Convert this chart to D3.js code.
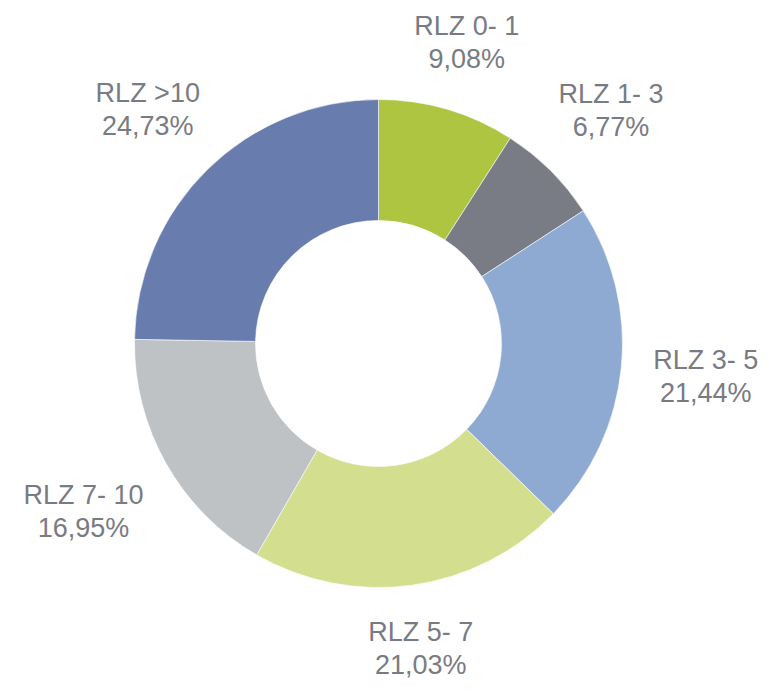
<!DOCTYPE html>
<html>
<head>
<meta charset="utf-8">
<script src="https://cdn.jsdelivr.net/npm/d3@7"></script>
<style>
  body { margin: 0; background: #fff; }
  text { font-family: "Liberation Sans", Arial, sans-serif; }
</style>
</head>
<body>
<script>
// data
const categories = ["RLZ 0- 1", "RLZ 1- 3", "RLZ 3- 5", "RLZ 5- 7", "RLZ 7- 10", "RLZ >10"];
const shares = [9.08, 6.77, 21.44, 21.03, 16.95, 24.73];
const colors = ["#adc541", "#797c84", "#8faad2", "#d3de8e", "#bec2c5", "#687cae"];

const W = 782, H = 693;
const cx = 378.5, cy = 343.5, R = 244, r0 = 123;

const svg = d3.select("body").append("svg")
  .attr("width", W)
  .attr("height", H);

const data = categories.map((c, i) => ({ cat: c, val: shares[i], col: colors[i] }));

const pie = d3.pie().value(d => d.val).sort(null);
const arc = d3.arc().innerRadius(r0).outerRadius(R);
const arcs = pie(data);

const g = svg.append("g").attr("transform", `translate(${cx},${cy})`);

g.selectAll("path")
  .data(arcs)
  .enter()
  .append("path")
  .attr("d", arc)
  .attr("fill", d => d.data.col)
  .attr("stroke", "#fff")
  .attr("stroke-width", 0.6);

const fmt = v => v.toFixed(2).replace(".", ",") + "%";
const gap = 30, lineH = 33, fs = 27;

const labels = g.selectAll("g.lbl")
  .data(arcs)
  .enter()
  .append("g")
  .attr("class", "lbl");

labels.each(function (d) {
  const el = d3.select(this);
  const t = el.append("text")
    .attr("text-anchor", "middle")
    .attr("fill", "#797b83")
    .style("font-size", fs + "px");
  t.append("tspan").attr("x", 0).attr("y", -7).text(d.data.cat);
  t.append("tspan").attr("x", 0).attr("y", -7 + lineH).text(fmt(d.data.val));
  const bb = t.node().getBBox();
  const a = (d.startAngle + d.endAngle) / 2;
  const s = Math.sin(a), c = -Math.cos(a);
  // push the label box outward until it clears the ring by "gap"
  const proj = Math.abs(s) * bb.width / 2 + Math.abs(c) * 26;
  const rr = R + gap + proj;
  el.attr("transform", `translate(${s * rr},${c * rr})`);
});
</script>
</body>
</html>
